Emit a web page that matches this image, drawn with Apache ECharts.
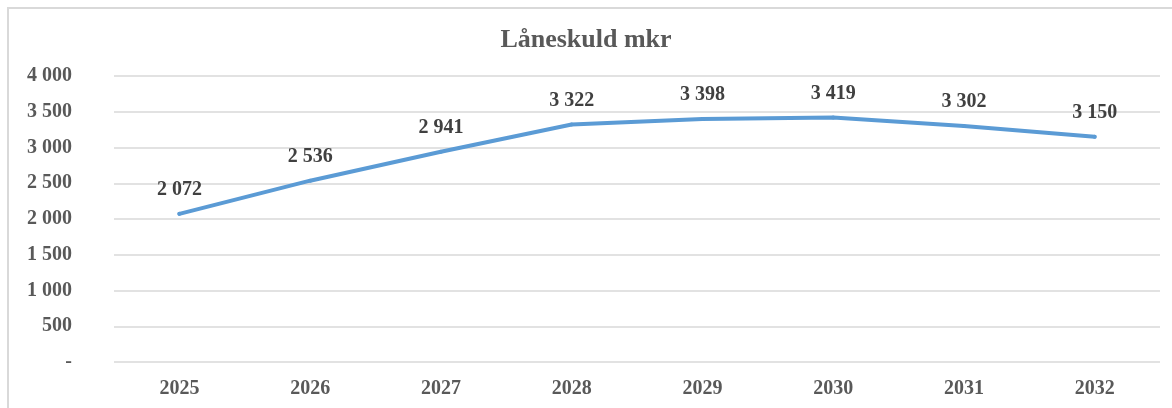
<!DOCTYPE html>
<html>
<head>
<meta charset="utf-8">
<script src="https://cdn.jsdelivr.net/npm/echarts@6/dist/echarts.min.js"></script>
<style>
  html, body {
    margin: 0;
    padding: 0;
    background: #fff;
  }
  .chartMain {
    position: absolute;
    left: 7px;
    top: 7px;
    width: 1180px;
    height: 420px;
    border-left: 2px solid #d9d9d9;
    border-top: 2px solid #d9d9d9;
  }
  .linechart {
    position: absolute;
    left: 0;
    top: 0;
    width: 1172px;
    height: 408px;
  }
</style>
</head>
<body>
<div class="chartMain"></div>
<div class="linechart" id="main"></div>
<script>
// data
const years = ["2025", "2026", "2027", "2028", "2029", "2030", "2031", "2032"];
const laneskuld = [2072, 2536, 2941, 3322, 3398, 3419, 3302, 3150];
const titleText = "Låneskuld mkr";

const textColor = "#595959";
const fontFam = "'Liberation Serif', 'DejaVu Serif', serif";

// 3 322 style, space as thousand separator, 0 shown as "-"
function fmt(v) {
  if (v === 0) return "-";
  return String(v).replace(/\B(?=(\d{3})+(?!\d))/g, " ");
}

let myChart = echarts.init(document.getElementById("main"));
let option = {
  animation: false,
  title: {
    text: titleText,
    left: "center",
    top: 22,
    textStyle: {
      fontFamily: fontFam,
      fontSize: 26,
      fontWeight: "bold",
      color: textColor
    }
  },
  grid: {
    left: 114,
    right: 12,
    top: 76,
    bottom: 46
  },
  xAxis: {
    type: "category",
    data: years,
    axisLine: { show: false },
    axisTick: { show: false },
    axisLabel: {
      margin: 17,
      fontFamily: fontFam,
      fontSize: 20,
      fontWeight: "bold",
      color: textColor
    }
  },
  yAxis: {
    type: "value",
    min: 0,
    max: 4000,
    interval: 500,
    axisLine: { show: false },
    axisTick: { show: false },
    splitLine: {
      lineStyle: { color: "#d9d9d9", width: 1.5 }
    },
    axisLabel: {
      margin: 42,
      fontFamily: fontFam,
      fontSize: 20,
      fontWeight: "bold",
      color: textColor,
      formatter: fmt
    }
  },
  series: [
    {
      name: titleText,
      type: "line",
      data: laneskuld,
      symbol: "circle",
      symbolSize: 4,
      showSymbol: true,
      itemStyle: { color: "#5b9bd5" },
      lineStyle: { color: "#5b9bd5", width: 4, cap: "round", join: "round" },
      label: {
        show: true,
        position: "top",
        distance: 12,
        fontFamily: fontFam,
        fontSize: 20,
        fontWeight: "bold",
        color: "#404040",
        formatter: p => fmt(p.value)
      }
    }
  ]
};
myChart.setOption(option);
</script>
</body>
</html>
